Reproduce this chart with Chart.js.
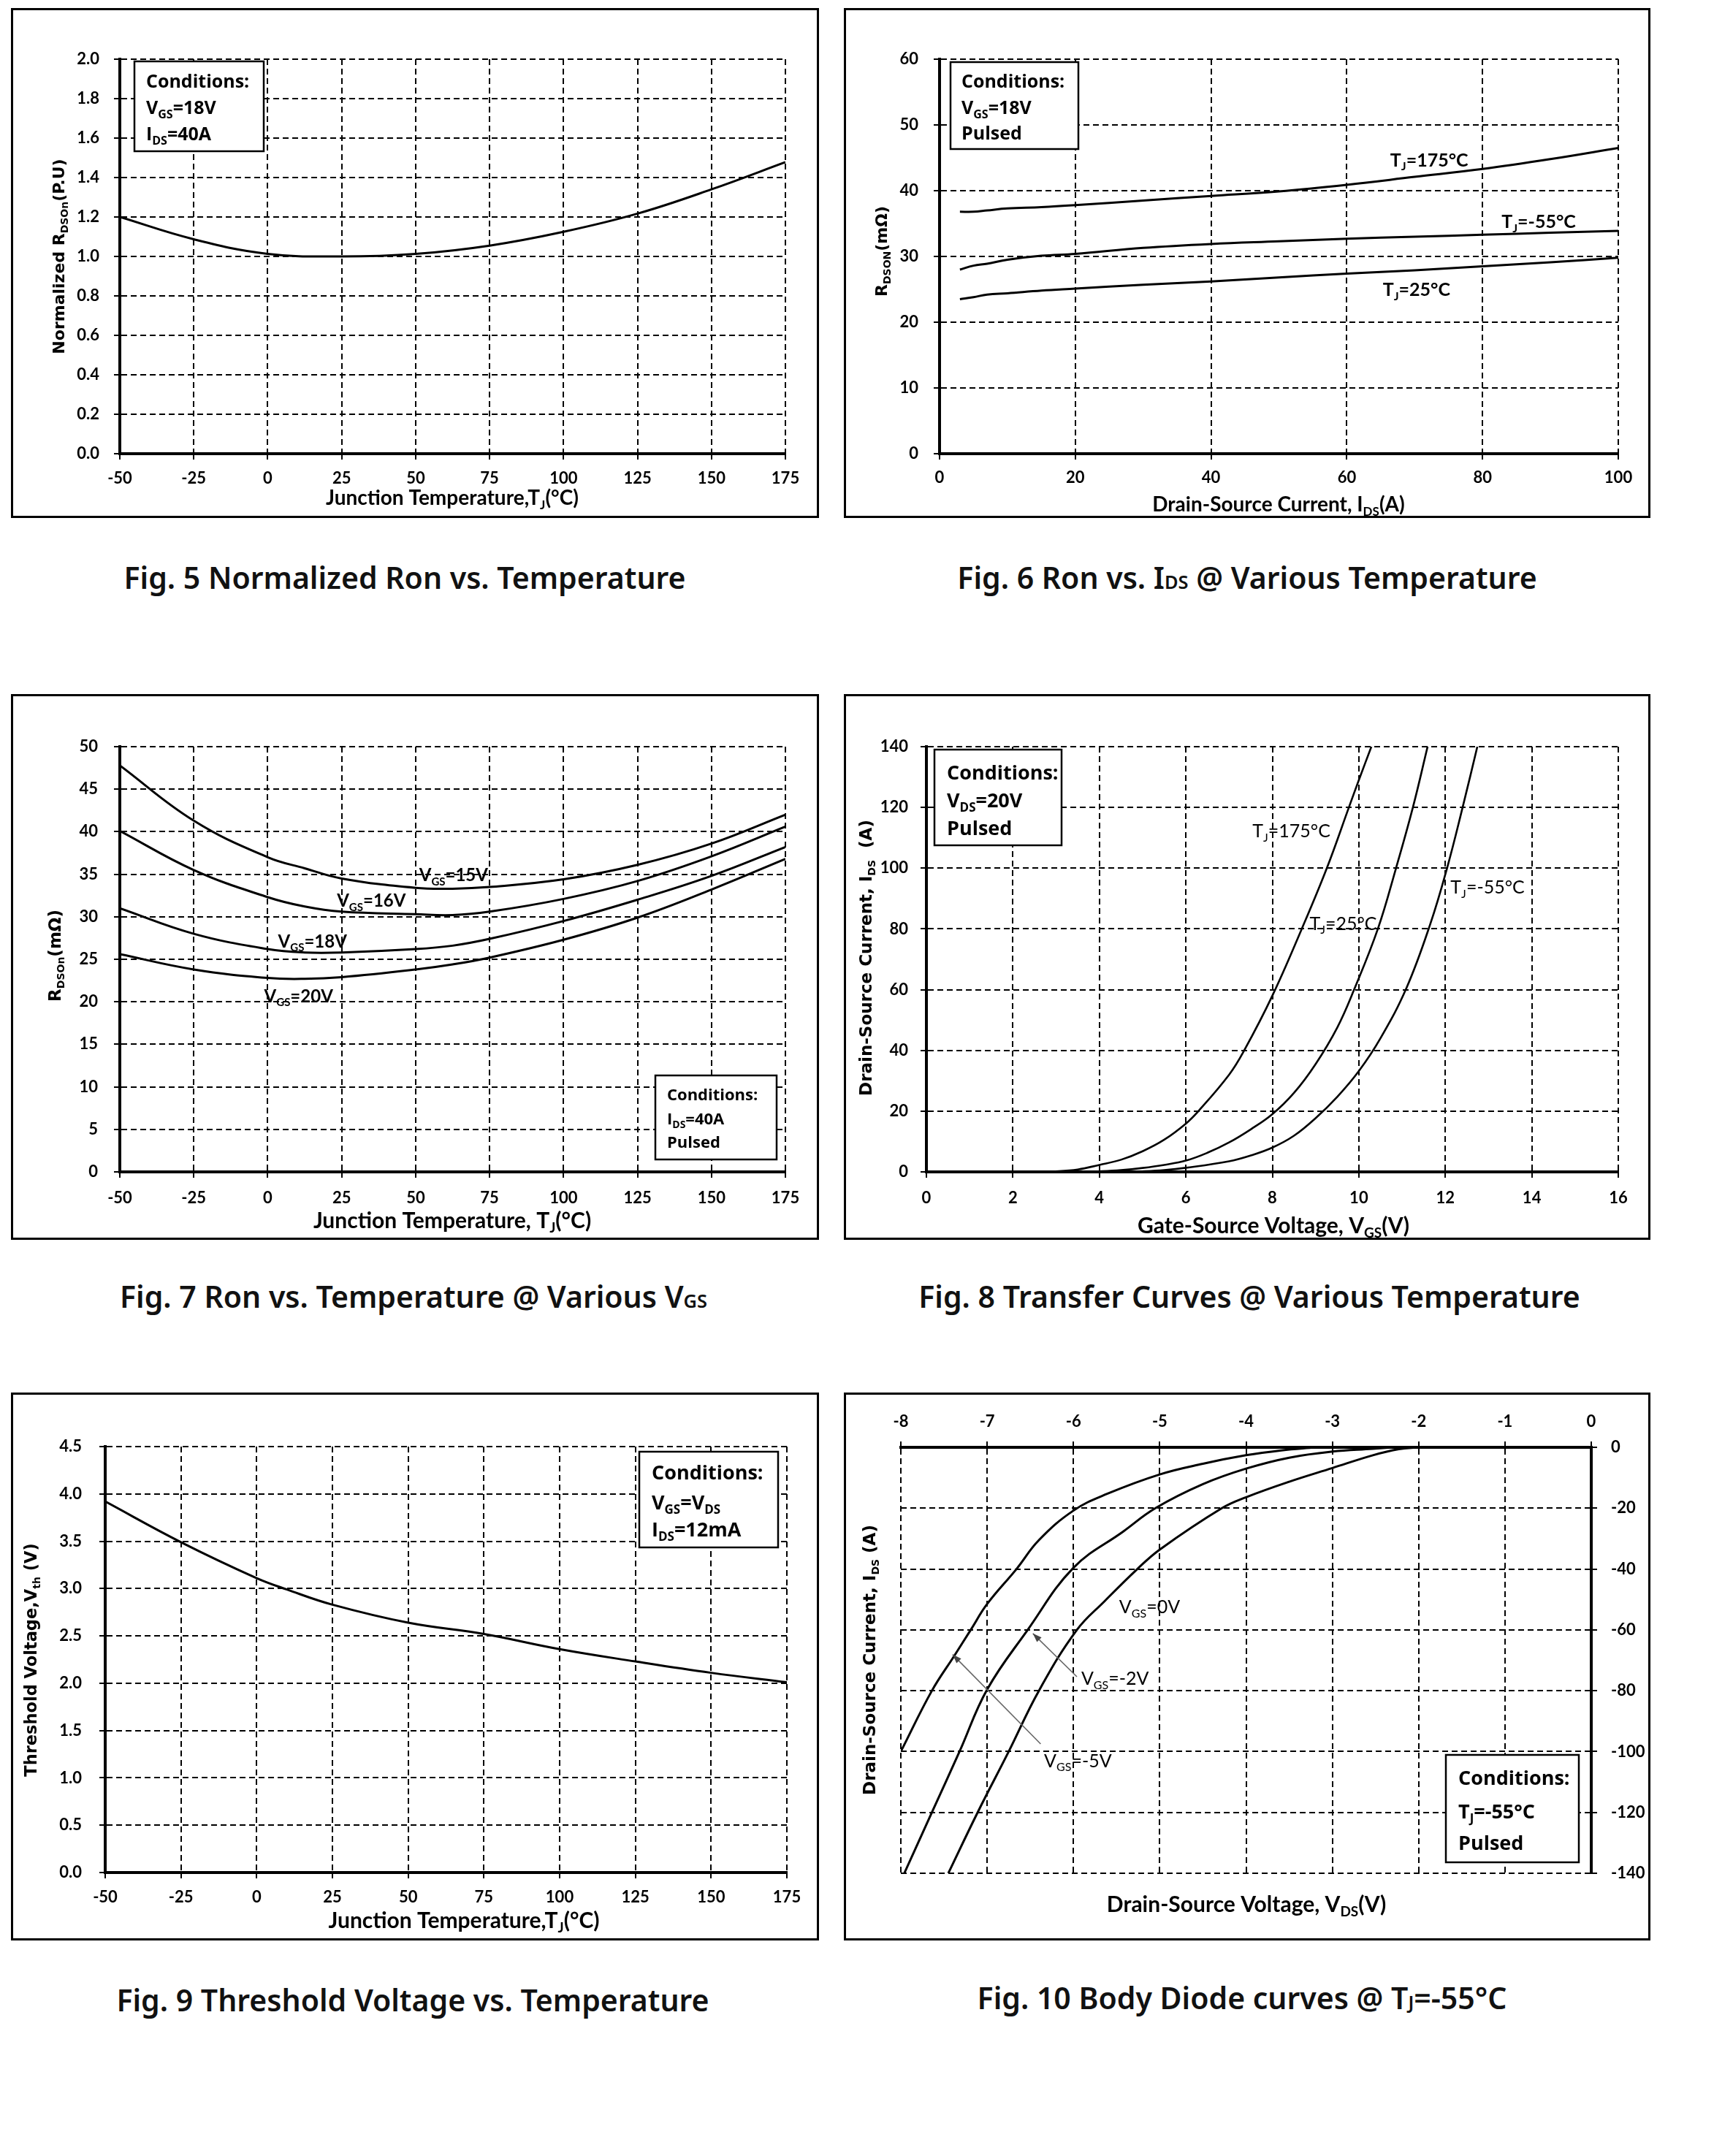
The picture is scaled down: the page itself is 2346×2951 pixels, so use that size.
<!DOCTYPE html>
<html lang="en">
<head>
<meta charset="UTF-8">
<title>Fig. 5 - Fig. 10</title>
<script src="https://cdn.jsdelivr.net/npm/chart.js"></script>
<style>
    body { margin: 0; background: #fff; width: 2346px; height: 2951px; position: relative; overflow: hidden; }
    .panel { position: absolute; }
    .panel canvas { position: absolute; left: 0; top: 0; }
    .frame { position: absolute; left: 0; top: 0; right: 0; bottom: 0; border: 3px solid #000; box-sizing: border-box; pointer-events: none; }
    .caption { position: absolute; width: 1200px; text-align: center; font-family: 'Noto Sans', sans-serif; font-weight: 600; font-size: 41px; line-height: 44px; color: #111; white-space: nowrap; }
    .caption small { font-size: 62%; }
</style>
</head>
<body>
<div class="panel" style="left:15px;top:11px;width:1106px;height:698px"><canvas id="c5" width="1106" height="698"></canvas><div class="frame"></div></div>
<div class="panel" style="left:1155px;top:11px;width:1104px;height:698px"><canvas id="c6" width="1104" height="698"></canvas><div class="frame"></div></div>
<div class="panel" style="left:15px;top:950px;width:1106px;height:747px"><canvas id="c7" width="1106" height="747"></canvas><div class="frame"></div></div>
<div class="panel" style="left:1155px;top:950px;width:1104px;height:747px"><canvas id="c8" width="1104" height="747"></canvas><div class="frame"></div></div>
<div class="panel" style="left:15px;top:1906px;width:1106px;height:750px"><canvas id="c9" width="1106" height="750"></canvas><div class="frame"></div></div>
<div class="panel" style="left:1155px;top:1906px;width:1104px;height:750px"><canvas id="c10" width="1104" height="750"></canvas><div class="frame"></div></div>

<div class="caption" style="left:-46px;top:768px">Fig. 5 Normalized Ron vs. Temperature</div>
<div class="caption" style="left:1107px;top:768px">Fig. 6 Ron vs. I<small>DS</small> @ Various Temperature</div>
<div class="caption" style="left:-34px;top:1752px">Fig. 7 Ron vs. Temperature @ Various V<small>GS</small></div>
<div class="caption" style="left:1110px;top:1752px">Fig. 8 Transfer Curves @ Various Temperature</div>
<div class="caption" style="left:-35px;top:2715px">Fig. 9 Threshold Voltage vs. Temperature</div>
<div class="caption" style="left:1100px;top:2712px">Fig. 10 Body Diode curves @ T<small>J</small>=-55°C</div>

<script>
// Fig. 5  normalized Ron vs junction temperature
const fig5Temp = [-50, -25, 0, 25, 50, 75, 100, 125, 150, 175];
const fig5Rnorm = [1.20, 1.087, 1.013, 1.0, 1.013, 1.055, 1.125, 1.217, 1.34, 1.478];

// Fig. 6  Ron vs Ids
const fig6Ids = [3, 5, 7, 10, 15, 20, 30, 40, 50, 60, 70, 80, 90, 100];
const fig6Ron175 = [36.8, 36.8, 37.0, 37.3, 37.5, 37.8, 38.5, 39.2, 39.9, 40.9, 42.1, 43.3, 44.8, 46.5];
const fig6RonM55 = [28.0, 28.6, 28.9, 29.5, 30.1, 30.4, 31.3, 31.9, 32.3, 32.7, 33.0, 33.3, 33.6, 33.9];
const fig6Ron25 = [23.5, 23.8, 24.2, 24.4, 24.8, 25.1, 25.7, 26.2, 26.8, 27.4, 27.9, 28.5, 29.1, 29.8];

// Fig. 7  Ron vs temperature for several Vgs
const fig7Temp = [-50, -25, 0, 12.5, 25, 50, 62.5, 75, 100, 125, 150, 175];
const fig7Vgs15 = [47.8, 41.3, 37.0, 35.7, 34.5, 33.4, 33.3, 33.5, 34.4, 36.1, 38.6, 42.0];
const fig7Vgs16 = [40.1, 35.5, 32.3, 31.2, 30.6, 30.3, 30.2, 30.6, 32.1, 34.2, 37.1, 40.6];
const fig7Vgs18 = [31.0, 28.0, 26.2, 25.8, 25.8, 26.2, 26.6, 27.4, 29.5, 32.0, 34.8, 38.2];
const fig7Vgs20 = [25.6, 23.8, 22.8, 22.7, 22.9, 23.8, 24.4, 25.2, 27.3, 29.9, 33.2, 36.8];

// Fig. 8  transfer curves
const fig8Vgs175 = [2.8, 3.5, 4.0, 4.5, 5.0, 5.5, 6.0, 6.29, 7.0, 7.35, 8.0, 8.68, 9.26, 9.77, 10.0, 10.29];
const fig8Ids175 = [0, 0.8, 2.3, 4.0, 6.8, 10.6, 15.9, 20, 32, 40, 58, 80, 100, 120, 129, 140];
const fig8Vgs25 = [3.8, 4.5, 5.0, 5.5, 6.0, 6.5, 7.0, 7.5, 8.0, 8.5, 9.0, 9.5, 9.89, 10.44, 10.86, 11.25, 11.59];
const fig8Ids25 = [0, 0.6, 1.3, 2.3, 3.7, 6.3, 9.7, 14.0, 19, 26, 35.5, 47.5, 60, 80, 100, 120, 140];
const fig8VgsM55 = [4.8, 5.5, 6.0, 7.0, 7.5, 8.0, 8.5, 9.0, 9.5, 10.0, 10.5, 11.1, 11.65, 12.04, 12.4, 12.74];
const fig8IdsM55 = [0, 0.6, 1.35, 3.5, 5.4, 8.0, 11.9, 17.7, 24.7, 33.2, 44, 60.5, 81.5, 100, 120, 140];

// Fig. 9  threshold voltage
const fig9Temp = [-50, -25, 0, 10, 25, 50, 75, 100, 125, 150, 175];
const fig9Vth = [3.92, 3.49, 3.11, 2.99, 2.83, 2.64, 2.52, 2.36, 2.23, 2.11, 2.01];

// Fig. 10  body diode, Tj = -55C
const fig10Vds0 = [-7.45, -7.11, -6.75, -6.4, -5.96, -5.64, -5.26, -5.0, -4.28, -4.0, -3.5, -3.0, -2.53, -2.23, -2.0];
const fig10Ids0 = [-140, -120, -100, -80, -60, -50.6, -40, -33.6, -20, -16.4, -11.3, -6.8, -2.6, -0.6, 0];
const fig10VdsM2 = [-7.96, -7.64, -7.32, -7.0, -6.53, -6.0, -5.42, -5.05, -4.5, -4.0, -3.5, -3.0, -2.53, -2.3];
const fig10IdsM2 = [-140, -120, -100, -79.6, -60, -39.6, -27.6, -20, -12.1, -7.0, -3.4, -1.4, -0.5, 0];
const fig10VdsM5 = [-8.0, -7.64, -7.38, -7.19, -7.0, -6.66, -6.4, -6.0, -5.61, -5.0, -4.5, -4.0, -3.59, -3.2];
const fig10IdsM5 = [-100, -80, -68.5, -60, -51.5, -40, -30.5, -20.8, -15.3, -8.9, -5.4, -2.6, -1.0, 0];

const TICK_FONT = { family: 'Lato, sans-serif', size: 22, weight: 'bold' };
const YT = s => ({ family: "'DejaVu Sans', sans-serif", size: s, weight: 'bold' });
const XT = s => ({ family: 'Lato, sans-serif', size: s, weight: 'bold' });
const LAB = (s, w) => ({ family: 'Lato, sans-serif', size: s, weight: w });
const BOXF = s => ({ family: "'Open Sans', sans-serif", size: s, weight: 'bold' });

const pts = (xs, ys) => xs.map((x, i) => ({ x: x, y: ys[i] }));

// "V_{GS}=18V" -> pieces with subscripts
function parseRich(str) {
    const parts = [];
    const re = /_\{([^}]*)\}/g;
    let last = 0, m;
    while ((m = re.exec(str))) {
        if (m.index > last) parts.push([str.slice(last, m.index), 0]);
        parts.push([m[1], 1]);
        last = re.lastIndex;
    }
    if (last < str.length) parts.push([str.slice(last), 0]);
    return parts;
}

function drawRich(ctx, str, x, y, font, align) {
    const parts = parseRich(str);
    const big = font.weight + ' ' + font.size + 'px ' + font.family;
    const small = font.weight + ' ' + Math.round(font.size * 0.62) + 'px ' + font.family;
    let w = 0;
    parts.forEach(p => { ctx.font = p[1] ? small : big; w += ctx.measureText(p[0]).width; });
    let cx = align === 'center' ? x - w / 2 : (align === 'right' ? x - w : x);
    const base = y + font.size * 0.36;
    ctx.textAlign = 'left';
    ctx.textBaseline = 'alphabetic';
    parts.forEach(p => {
        ctx.font = p[1] ? small : big;
        ctx.fillText(p[0], cx, base + (p[1] ? font.size * 0.22 : 0));
        cx += ctx.measureText(p[0]).width;
    });
}

function drawNotes(chart, o) {
    const ctx = chart.ctx, xs = chart.scales.x, ys = chart.scales.y;
    ctx.save();
    ctx.fillStyle = '#000';
    o.titles.forEach(t => {
        ctx.save();
        ctx.translate(t.x, t.y);
        if (t.rot) ctx.rotate(-Math.PI / 2);
        drawRich(ctx, t.text, 0, 0, t.font, 'center');
        ctx.restore();
    });
    (o.arrows || []).forEach(a => {
        const x1 = xs.getPixelForValue(a[0][0]), y1 = ys.getPixelForValue(a[0][1]);
        const x2 = xs.getPixelForValue(a[1][0]), y2 = ys.getPixelForValue(a[1][1]);
        const ang = Math.atan2(y2 - y1, x2 - x1);
        ctx.strokeStyle = '#666';
        ctx.fillStyle = '#444';
        ctx.lineWidth = 1.6;
        ctx.beginPath(); ctx.moveTo(x1, y1); ctx.lineTo(x2, y2); ctx.stroke();
        ctx.beginPath();
        ctx.moveTo(x2, y2);
        ctx.lineTo(x2 - 13 * Math.cos(ang - 0.35), y2 - 13 * Math.sin(ang - 0.35));
        ctx.lineTo(x2 - 13 * Math.cos(ang + 0.35), y2 - 13 * Math.sin(ang + 0.35));
        ctx.closePath(); ctx.fill();
    });
    ctx.fillStyle = '#000';
    (o.labels || []).forEach(l => drawRich(ctx, l[2], xs.getPixelForValue(l[0]), ys.getPixelForValue(l[1]), o.labelFont, 'left'));
    const b = o.box;
    ctx.fillStyle = '#fff';
    ctx.fillRect(b.x, b.y, b.w, b.h);
    ctx.strokeStyle = '#000';
    ctx.lineWidth = 2.5;
    ctx.strokeRect(b.x, b.y, b.w, b.h);
    ctx.fillStyle = '#000';
    b.lines.forEach((ln, i) => drawRich(ctx, ln, b.tx, b.ys[i], BOXF(b.size), 'left'));
    ctx.restore();
}

function axisCfg(s, size) {
    return {
        type: 'linear', position: s.pos, min: s.min, max: s.max,
        ticks: {
            stepSize: s.step, autoSkip: false, maxRotation: 0, color: '#000', padding: s.pad, font: TICK_FONT,
            callback: v => Number(v).toFixed(s.dec || 0)
        },
        grid: { color: '#000', lineWidth: 2, drawTicks: true, tickLength: 8, tickWidth: 2, tickColor: '#000', tickBorderDash: [] },
        border: { display: true, color: '#000', width: 4, dash: [8, 5] },
        afterFit: sc => {
            if (sc.isHorizontal()) sc.height = size; else sc.width = size;
            sc.paddingLeft = sc.paddingRight = sc.paddingTop = sc.paddingBottom = 0;
        }
    };
}

function plot(id, o) {
    const c = document.getElementById(id);
    const w = c.width, h = c.height, a = o.area;
    const xTop = o.x.pos === 'top', yRight = o.y.pos === 'right';
    return new Chart(c, {
        type: 'line',
        data: {
            datasets: o.series.map(s => ({
                data: s, borderColor: '#000', borderWidth: o.lw || 3, pointRadius: 0,
                fill: false, tension: 0.4
            }))
        },
        options: {
            responsive: false, animation: false, devicePixelRatio: 1,
            layout: { padding: {
                left: yRight ? a.l : 0, right: yRight ? 0 : w - a.r,
                top: xTop ? 0 : a.t, bottom: xTop ? h - a.b : 0 } },
            plugins: { legend: { display: false }, tooltip: { enabled: false } },
            scales: {
                x: axisCfg(o.x, xTop ? a.t : h - a.b),
                y: axisCfg(o.y, yRight ? w - a.r : a.l)
            }
        },
        plugins: [{ id: 'notes', afterDraw: ch => drawNotes(ch, o) }]
    });
}

plot('c5', {
    area: { l: 149, t: 70, r: 1060, b: 610 },
    x: { pos: 'bottom', min: -50, max: 175, step: 25, pad: 13 },
    y: { pos: 'left', min: 0, max: 2, step: 0.2, dec: 1, pad: 20 },
    series: [pts(fig5Temp, fig5Rnorm)],
    titles: [
        { text: 'Normalized R_{DSOn}(P.U)', x: 65, y: 340, rot: true, font: YT(22) },
        { text: 'Junction Temperature,T_{J}(°C)', x: 604, y: 670, font: XT(28) }
    ],
    box: { x: 169, y: 73, w: 177, h: 123, tx: 185, ys: [100, 136, 172], size: 25,
           lines: ['Conditions:', 'V_{GS}=18V', 'I_{DS}=40A'] }
});

plot('c6', {
    area: { l: 131, t: 70, r: 1060, b: 610 },
    x: { pos: 'bottom', min: 0, max: 100, step: 20, pad: 12 },
    y: { pos: 'left', min: 0, max: 60, step: 10, pad: 21 },
    series: [pts(fig6Ids, fig6Ron175), pts(fig6Ids, fig6RonM55), pts(fig6Ids, fig6Ron25)],
    titles: [
        { text: 'R_{DSON}(mΩ)', x: 51, y: 333, rot: true, font: YT(22) },
        { text: 'Drain-Source Current, I_{DS}(A)', x: 595, y: 679, font: XT(28) }
    ],
    labelFont: LAB(25, 'bold'),
    labels: [[66.4, 44.7, 'T_{J}=175°C'], [82.8, 35.3, 'T_{J}=-55°C'], [65.3, 25.0, 'T_{J}=25°C']],
    box: { x: 146, y: 74, w: 175, h: 119, tx: 161, ys: [100, 136, 171], size: 25,
           lines: ['Conditions:', 'V_{GS}=18V', 'Pulsed'] }
});

plot('c7', {
    area: { l: 149, t: 72, r: 1060, b: 654 },
    x: { pos: 'bottom', min: -50, max: 175, step: 25, pad: 15 },
    y: { pos: 'left', min: 0, max: 50, step: 5, pad: 22 },
    series: [pts(fig7Temp, fig7Vgs15), pts(fig7Temp, fig7Vgs16), pts(fig7Temp, fig7Vgs18), pts(fig7Temp, fig7Vgs20)],
    titles: [
        { text: 'R_{DSOn}(mΩ)', x: 60, y: 358, rot: true, font: YT(23) },
        { text: 'Junction Temperature, T_{J}(°C)', x: 604, y: 720, font: XT(30) }
    ],
    labelFont: LAB(24, 'bold'),
    labels: [[51.2, 34.9, 'V_{GS}=15V'], [23.4, 31.9, 'V_{GS}=16V'], [3.5, 27.1, 'V_{GS}=18V'], [-1.2, 20.7, 'V_{GS}=20V']],
    box: { x: 882, y: 522, w: 166, h: 115, tx: 898, ys: [548, 581, 613], size: 22,
           lines: ['Conditions:', 'I_{DS}=40A', 'Pulsed'] }
});

plot('c8', {
    area: { l: 113, t: 72, r: 1060, b: 654 },
    lw: 2.6,
    x: { pos: 'bottom', min: 0, max: 16, step: 2, pad: 15 },
    y: { pos: 'left', min: 0, max: 140, step: 20, pad: 17 },
    series: [pts(fig8Vgs175, fig8Ids175), pts(fig8Vgs25, fig8Ids25), pts(fig8VgsM55, fig8IdsM55)],
    titles: [
        { text: 'Drain-Source Current, I_{DS}  (A)', x: 30, y: 361, rot: true, font: YT(23) },
        { text: 'Gate-Source Voltage, V_{GS}(V)', x: 588, y: 727, font: XT(30) }
    ],
    labelFont: LAB(25, 'normal'),
    labels: [[7.54, 112.3, 'T_{J}=175°C'], [8.86, 81.9, 'T_{J}=25°C'], [12.12, 93.7, 'T_{J}=-55°C']],
    box: { x: 124, y: 76, w: 174, h: 131, tx: 141, ys: [107, 145, 183], size: 27,
           lines: ['Conditions:', 'V_{DS}=20V', 'Pulsed'] }
});

plot('c9', {
    area: { l: 129, t: 74, r: 1062, b: 657 },
    x: { pos: 'bottom', min: -50, max: 175, step: 25, pad: 13 },
    y: { pos: 'left', min: 0, max: 4.5, step: 0.5, dec: 1, pad: 24 },
    series: [pts(fig9Temp, fig9Vth)],
    titles: [
        { text: 'Threshold Voltage,V_{th} (V)', x: 27, y: 366, rot: true, font: YT(22.5) },
        { text: 'Junction Temperature,T_{J}(°C)', x: 620, y: 722, font: XT(30) }
    ],
    box: { x: 860, y: 81, w: 190, h: 131, tx: 877, ys: [109, 150, 187], size: 27,
           lines: ['Conditions:', 'V_{GS}=V_{DS}', 'I_{DS}=12mA'] }
});

plot('c10', {
    area: { l: 78, t: 75, r: 1023, b: 658 },
    x: { pos: 'top', min: -8, max: 0, step: 1, pad: 14 },
    y: { pos: 'right', min: -140, max: 0, step: 20, pad: 19 },
    series: [pts(fig10Vds0, fig10Ids0), pts(fig10VdsM2, fig10IdsM2), pts(fig10VdsM5, fig10IdsM5)],
    titles: [
        { text: 'Drain-Source Current, I_{DS} (A)', x: 35, y: 366, rot: true, font: YT(23) },
        { text: 'Drain-Source Voltage, V_{DS}(V)', x: 551, y: 700, font: XT(30) }
    ],
    labelFont: LAB(25, 'normal'),
    labels: [[-5.47, -52.4, 'V_{GS}=0V'], [-5.91, -75.9, 'V_{GS}=-2V'], [-6.34, -102.9, 'V_{GS}=-5V']],
    arrows: [[[-5.96, -75.4], [-6.47, -61.2]], [[-6.38, -97.5], [-7.40, -68.1]]],
    box: { x: 824, y: 496, w: 182, h: 147, tx: 841, ys: [527, 573, 616], size: 27,
           lines: ['Conditions:', 'T_{J}=-55°C', 'Pulsed'] }
});
</script>
</body>
</html>
